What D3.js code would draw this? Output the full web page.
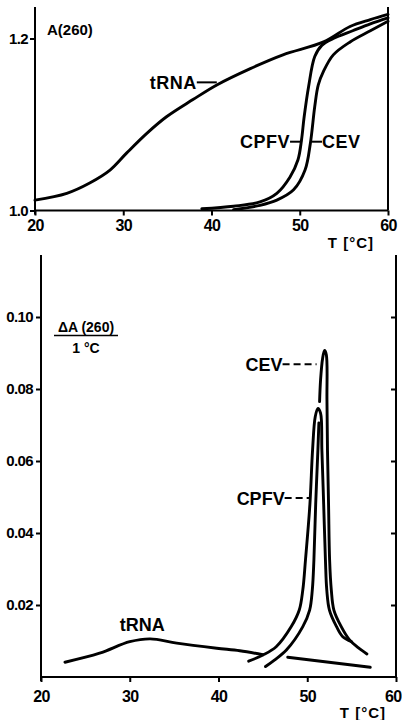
<!DOCTYPE html>
<html><head><meta charset="utf-8">
<script src="https://cdn.jsdelivr.net/npm/d3@7"></script>
<style>
body{margin:0;background:#fff;}
svg{display:block;font-family:"Liberation Sans",Arial,sans-serif;font-weight:bold;}
</style></head><body>
<svg id="c" width="402" height="720"></svg>
<script>
// ---------- data ----------
const tempTicks = [20, 30, 40, 50, 60];
const topYTicks = [1.0, 1.2];
const bottomYTicks = [0.02, 0.04, 0.06, 0.08, 0.10];

// top panel: A(260) melting curves
const topTrnaT = [20, 23.6, 26.2, 28.5, 30.4, 32.7, 34.9, 37.9, 40.6, 44.4, 48.1, 52.7, 55.7, 58.0, 60];
const topTrnaA = [1.012, 1.020, 1.032, 1.047, 1.067, 1.090, 1.109, 1.129, 1.146, 1.165, 1.181, 1.196, 1.214, 1.222, 1.228];
const topCpfvT = [38.9, 42.5, 45.5, 47.4, 48.9, 49.8, 50.2, 50.5, 51.0, 51.7, 52.5, 53.8, 56.0, 58.0, 60];
const topCpfvA = [1.002, 1.005, 1.010, 1.020, 1.039, 1.059, 1.082, 1.109, 1.144, 1.179, 1.192, 1.200, 1.209, 1.217, 1.224];
const topCevT = [42.5, 45.5, 47.4, 49.3, 50.6, 51.2, 51.7, 52.1, 52.7, 53.8, 55.7, 58.0, 60];
const topCevA = [1.001, 1.006, 1.012, 1.024, 1.047, 1.078, 1.121, 1.146, 1.162, 1.181, 1.196, 1.209, 1.220];

// bottom panel: dA(260)/1°C derivative curves (null = gap where lines cross)
const botTrnaT = [22.7, 26.6, 30.0, 32.3, 35.3, 39.8, 42.4, 45.0, 46.4, 47.8, 57.1];
const botTrnaD = [0.0041, 0.0066, 0.0098, 0.0106, 0.0094, 0.0080, 0.0073, 0.0062, null, 0.0055, 0.0027];
const botCpfvT = [43.4, 45.0, 46.5, 48.2, 49.1, 49.5, 49.8, 50.3, 50.6, 50.9, 51.2, 51.5, 51.65, 51.85, 52.05, 52.2, 52.5, 53.3, 54.0, 55.0];
const botCpfvD = [0.0044, 0.0061, 0.0084, 0.0140, 0.0186, 0.0242, 0.0325, 0.0480, 0.0631, 0.0723, 0.0746, 0.0733, 0.0630, 0.0480, 0.0325, 0.0242, 0.0186, 0.0140, 0.0112, 0.0098];
const botCevT = [45.3, 46.3, 47.65, 49.5, 50.27, 50.57, 50.75, 50.95, 51.2, 51.31, 51.35, 51.39, 51.5, 51.73, 51.95, 52.15, 52.22, 52.28, 52.4, 52.52, 52.71, 53.0, 53.83, 54.77, 55.7, 56.72];
const botCevD = [0.0029, 0.0047, 0.0075, 0.0140, 0.0186, 0.0242, 0.0325, 0.0480, 0.0631, 0.0706, null, 0.0765, 0.0825, 0.0885, 0.0907, 0.0895, 0.0770, 0.0630, 0.0480, 0.0325, 0.0242, 0.0186, 0.0140, 0.0103, 0.0082, 0.0064];

// label anchor points (data space)
const topLabelNames = ["tRNA", "CPFV", "CEV"];
const topLabelT = [40.6, 50.26, 51.39];
const topLabelA = [1.149, 1.080, 1.080];
const botLabelNames = ["CEV", "CPFV"];
const botLabelT = [51.05, 50.27];
const botLabelD = [0.0869, 0.0497];

// ---------- drawing ----------
const svg = d3.select("#c");
const xTop = d3.scaleLinear().domain([20, 60]).range([35, 388]);
const yTop = d3.scaleLinear().domain([1.0, 1.2]).range([210.5, 38.5]);
const xBot = d3.scaleLinear().domain([20, 60]).range([41, 396]);
const yBot = d3.scaleLinear().domain([0, 0.1]).range([677, 317]);

const zip = (a, b) => a.map((t, i) => [t, b[i]]);

function styleAxis(g, fs) {
  g.select(".domain").remove();
  g.selectAll(".tick line").attr("stroke", "#000").attr("stroke-width", 2);
  g.selectAll(".tick text").attr("fill", "#000").style("font-size", fs + "px")
    .style("font-weight", "bold").style("letter-spacing", "-0.6px")
    .style("font-family", '"Liberation Sans",Arial,sans-serif');
}

// ---- top panel axes ----
const topG = svg.append("g");
topG.append("line").attr("x1", xTop(20)).attr("x2", xTop(20)).attr("y1", 7).attr("y2", yTop(1.0) + 4)
  .attr("stroke", "#000").attr("stroke-width", 2);
topG.append("line").attr("x1", xTop(60)).attr("x2", xTop(60)).attr("y1", 7).attr("y2", yTop(1.0))
  .attr("stroke", "#000").attr("stroke-width", 2);
topG.append("line").attr("x1", xTop(20)).attr("x2", xTop(60)).attr("y1", yTop(1.0)).attr("y2", yTop(1.0))
  .attr("stroke", "#000").attr("stroke-width", 2);
topG.append("g").attr("transform", `translate(${xTop(20)},0)`)
  .call(d3.axisLeft(yTop).tickValues(topYTicks).tickFormat(d3.format(".1f")).tickSize(5).tickPadding(2).tickSizeOuter(0))
  .call(g => styleAxis(g, 15));
topG.append("g").attr("transform", `translate(0,${yTop(1.0)})`)
  .call(d3.axisBottom(xTop).tickValues(tempTicks).tickFormat(d3.format("d")).tickSize(5).tickPadding(4).tickSizeOuter(0))
  .call(g => styleAxis(g, 16));
topG.append("text").attr("x", 47).attr("y", 35).style("font-size", "15px").text("A(260)");
topG.append("text").attr("x", 374).attr("y", 248).attr("text-anchor", "end")
  .style("font-size", "15px").style("letter-spacing", "1px").text("T [°C]");

// ---- top curves ----
const lineTop = d3.line().x(d => xTop(d[0])).y(d => yTop(d[1])).curve(d3.curveCatmullRom.alpha(0.5));
[[topTrnaT, topTrnaA], [topCpfvT, topCpfvA], [topCevT, topCevA]].forEach(([t, a]) => {
  topG.append("path").attr("d", lineTop(zip(t, a))).attr("fill", "none")
    .attr("stroke", "#000").attr("stroke-width", 2.9).attr("stroke-linejoin", "round").attr("stroke-linecap", "round");
});

// top labels
const topLeaders = [
  {name: "tRNA", x0: xTop(topLabelT[0]) - 20, x1: xTop(topLabelT[0]), y: yTop(topLabelA[0]), anchor: "end", tx: xTop(topLabelT[0]) - 20},
  {name: "CPFV", x0: xTop(topLabelT[1]) - 12, x1: xTop(topLabelT[1]), y: yTop(topLabelA[1]), anchor: "end", tx: xTop(topLabelT[1]) - 12},
  {name: "CEV", x0: xTop(topLabelT[2]), x1: xTop(topLabelT[2]) + 10, y: yTop(topLabelA[2]), anchor: "start", tx: xTop(topLabelT[2]) + 10}
];
topLeaders.forEach(l => {
  topG.append("line").attr("x1", l.x0).attr("x2", l.x1).attr("y1", l.y).attr("y2", l.y)
    .attr("stroke", "#000").attr("stroke-width", 2);
  topG.append("text").attr("x", l.tx).attr("y", l.y + 6.5).attr("text-anchor", l.anchor)
    .style("font-size", "18px").style("letter-spacing", "0.5px").text(l.name);
});

// ---- bottom panel axes ----
const botG = svg.append("g");
botG.append("line").attr("x1", xBot(20)).attr("x2", xBot(20)).attr("y1", 255).attr("y2", yBot(0) + 4)
  .attr("stroke", "#000").attr("stroke-width", 2);
botG.append("line").attr("x1", xBot(60)).attr("x2", xBot(60)).attr("y1", 255).attr("y2", yBot(0))
  .attr("stroke", "#000").attr("stroke-width", 2);
botG.append("line").attr("x1", xBot(20)).attr("x2", xBot(60)).attr("y1", yBot(0)).attr("y2", yBot(0))
  .attr("stroke", "#000").attr("stroke-width", 2);
botG.append("g").attr("transform", `translate(${xBot(20)},0)`)
  .call(d3.axisLeft(yBot).tickValues(bottomYTicks).tickFormat(d3.format(".2f")).tickSize(5).tickPadding(3).tickSizeOuter(0))
  .call(g => styleAxis(g, 15));
botG.append("g").attr("transform", `translate(${xBot(60)},0)`)
  .call(d3.axisLeft(yBot).tickValues(bottomYTicks).tickFormat("").tickSize(5).tickSizeOuter(0))
  .call(g => styleAxis(g, 15));
botG.append("g").attr("transform", `translate(0,${yBot(0)})`)
  .call(d3.axisBottom(xBot).tickValues(tempTicks).tickFormat(d3.format("d")).tickSize(5).tickPadding(9).tickSizeOuter(0))
  .call(g => styleAxis(g, 16))
  .call(g => g.selectAll(".tick text").filter(d => d === 60).attr("text-anchor", "end").attr("x", 5));
botG.append("text").attr("x", 386).attr("y", 718).attr("text-anchor", "end")
  .style("font-size", "15px").style("letter-spacing", "1px").text("T [°C]");
// ΔA(260) / 1 °C label
botG.append("text").attr("x", 86).attr("y", 332).attr("text-anchor", "middle").style("font-size", "14px").text("ΔA (260)");
botG.append("line").attr("x1", 54).attr("x2", 118).attr("y1", 335.5).attr("y2", 335.5).attr("stroke", "#000").attr("stroke-width", 1.6);
botG.append("text").attr("x", 86).attr("y", 353).attr("text-anchor", "middle").style("font-size", "14px").text("1 °C");

// ---- bottom curves ----
const lineBot = d3.line().defined(d => d[1] != null).x(d => xBot(d[0])).y(d => yBot(d[1])).curve(d3.curveCatmullRom.alpha(0.5));
[[botTrnaT, botTrnaD], [botCpfvT, botCpfvD], [botCevT, botCevD]].forEach(([t, v]) => {
  botG.append("path").attr("d", lineBot(zip(t, v))).attr("fill", "none")
    .attr("stroke", "#000").attr("stroke-width", 2.9).attr("stroke-linejoin", "round").attr("stroke-linecap", "round");
});

// bottom labels
botG.append("text").attr("x", xBot(31.4)).attr("y", yBot(0.0106) - 8).attr("text-anchor", "middle")
  .style("font-size", "18px").text("tRNA");
const botLeaderLen = [34, 25];
botLabelNames.forEach((n, i) => {
  const x1 = xBot(botLabelT[i]), y = yBot(botLabelD[i]), x0 = x1 - botLeaderLen[i];
  botG.append("line").attr("x1", x0).attr("x2", x1).attr("y1", y).attr("y2", y)
    .attr("stroke", "#000").attr("stroke-width", 2).attr("stroke-dasharray", "7,4");
  botG.append("text").attr("x", x0).attr("y", y + 7).attr("text-anchor", "end")
    .style("font-size", "18px").text(n);
});
</script>
</body></html>
